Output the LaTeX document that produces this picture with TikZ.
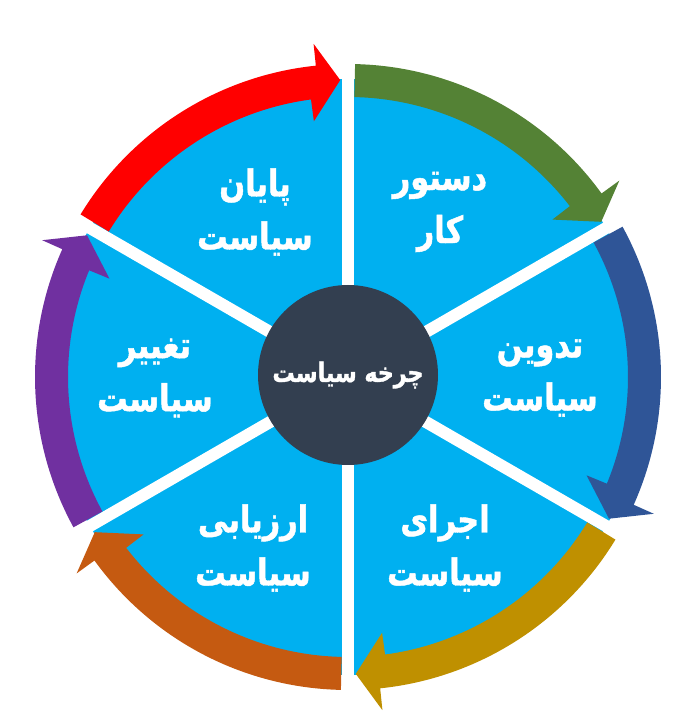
\documentclass[tikz,border=0pt]{standalone}
\usepackage{fontspec}
\TeXXeTstate=1
\newfontfamily\fafont[Script=Arabic, FakeStretch=0.82, BoldFeatures={FakeBold=1.2}]{DejaVu Sans}
\definecolor{diskblue}{HTML}{00B0F0}
\definecolor{hubdark}{HTML}{333F50}
\definecolor{arred}{HTML}{FF0000}
\definecolor{argreen}{HTML}{548235}
\definecolor{arblue}{HTML}{2F5597}
\definecolor{argold}{HTML}{BF9000}
\definecolor{arorange}{HTML}{C55A11}
\definecolor{arpurple}{HTML}{7030A0}
\tikzset{
  lbl/.style={text=white, font=\fafont\bfseries\fontsize{37}{53}\selectfont, align=center, inner sep=0pt},
  hublbl/.style={text=white, font=\fafont\bfseries\fontsize{27}{30}\selectfont, align=center},
  sep/.style={white, line width=12pt}
}
\newcommand\cycarrow[3]{%
  \fill[#1] (#2:313pt) arc[start angle=#2, end angle={#3+4.4}, radius=313pt]
    -- ({#3+4.4}:335pt) -- (#3:297pt) -- ({#3+6.1}:258pt) -- ({#3+6.1}:280pt)
    arc[start angle={#3+6.1}, end angle=#2, radius=280pt] -- cycle;}
\begin{document}
\begin{tikzpicture}
\useasboundingbox (0,0) rectangle (697pt,720pt);
\begin{scope}[shift={(348pt,343pt)}]
  \fill[diskblue] (0,0) circle[radius=298pt];
  \foreach \a in {90,30,-30,-90,-150,150}
    \draw[sep] (0,0) -- (\a:330pt);
  \cycarrow{arred}{148.7}{91.5}
  \cycarrow{argreen}{88.7}{31.5}
  \cycarrow{arblue}{28.7}{-28.5}
  \cycarrow{argold}{-31.3}{-88.5}
  \cycarrow{arorange}{-91.3}{-148.5}
  \cycarrow{arpurple}{208.7}{151.5}
  \node[circle, fill=hubdark, minimum size=180pt, inner sep=0pt, hublbl] (hub) at (0,2pt) {\beginR چرخه سیاست\endR};
  \node[lbl] (payan) at (-93pt,165pt) {\beginR پایان\endR\\\beginR سیاست\endR};
  \node[lbl] (dastur) at (92pt,165pt) {\beginR دستور\endR\\\beginR کار\endR};
  \node[lbl] (tadvin) at (192pt,-1pt) {\beginR تدوین\endR\\\beginR سیاست\endR};
  \node[lbl] (ejra) at (97pt,-171pt) {\beginR اجرای\endR\\\beginR سیاست\endR};
  \node[lbl] (arzyabi) at (-95pt,-171pt) {\beginR ارزیابی\endR\\\beginR سیاست\endR};
  \node[lbl] (taghyir) at (-193pt,-1pt) {\beginR تغییر\endR\\\beginR سیاست\endR};
\end{scope}
\end{tikzpicture}
\end{document}
